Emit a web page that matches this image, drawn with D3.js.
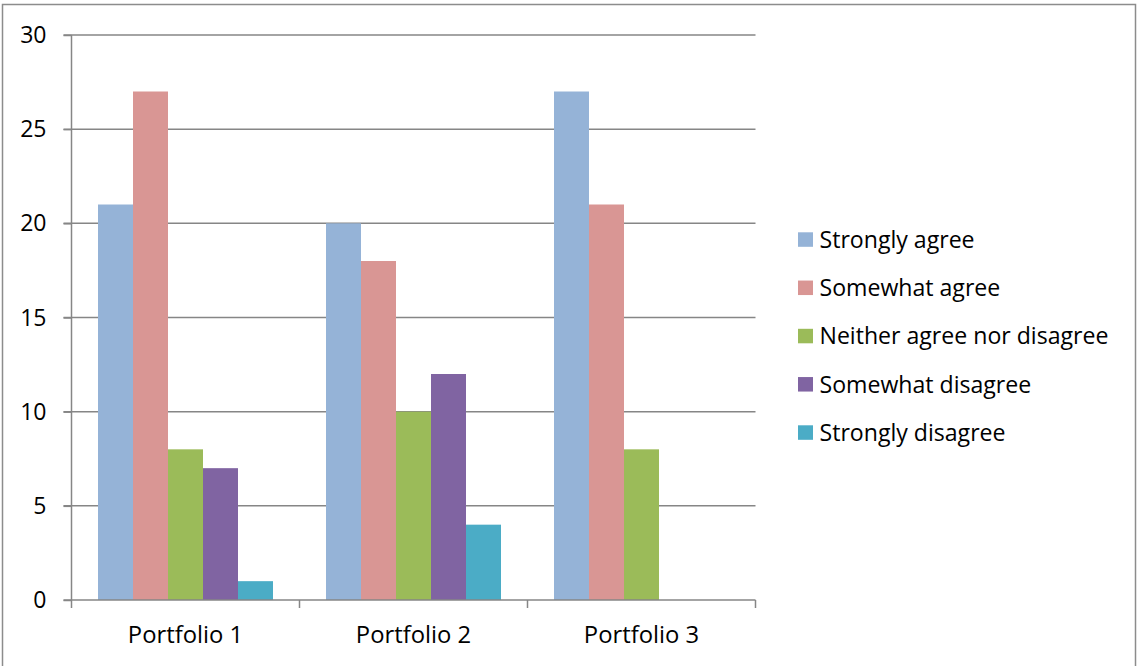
<!DOCTYPE html>
<html>
<head>
<meta charset="utf-8">
<script src="https://cdn.jsdelivr.net/npm/d3@7/dist/d3.min.js"></script>
<style>
  html, body { margin: 0; padding: 0; background: #fff; }
  svg { display: block; }
  text { font-family: "Open Sans", sans-serif; fill: #000; }
</style>
</head>
<body>
<svg id="chart" width="1138" height="666"></svg>
<script>
const categories = ["Portfolio 1", "Portfolio 2", "Portfolio 3"];
const seriesNames = ["Strongly agree", "Somewhat agree", "Neither agree nor disagree", "Somewhat disagree", "Strongly disagree"];
const stronglyAgree = [21, 20, 27];
const somewhatAgree = [27, 18, 21];
const neither = [8, 10, 8];
const somewhatDisagree = [7, 12, 0];
const stronglyDisagree = [1, 4, 0];
const yTicks = [0, 5, 10, 15, 20, 25, 30];
const colors = ["#95B3D7", "#D99694", "#9BBB59", "#8064A2", "#4BACC6"];

(function () {
const seriesValues = [stronglyAgree, somewhatAgree, neither, somewhatDisagree, stronglyDisagree];

const svg = d3.select("#chart");

// outer border
svg.append("rect")
  .attr("x", 2.5).attr("y", 4.5).attr("width", 1133).attr("height", 680)
  .attr("fill", "none").attr("stroke", "#8c8c8c").attr("stroke-width", 1.5);

const pLeft = 71.5, pRight = 755.5, pTop = 35, pBottom = 600;

const x = d3.scaleBand().domain(categories).range([pLeft, pRight]).paddingInner(0).paddingOuter(0);
const bandW = x.bandwidth();
const groupPad = 26.5 / 228;
const x1 = d3.scaleBand().domain(seriesNames)
  .range([bandW * groupPad, bandW * (1 - groupPad)]).paddingInner(0).paddingOuter(0);
const y = d3.scaleLinear().domain([0, 30]).range([pBottom, pTop]);

const gridColor = "#868686";

// gridlines
svg.append("g").selectAll("line").data(yTicks.filter(d => d !== 0)).join("line")
  .attr("x1", pLeft - 8).attr("x2", pRight)
  .attr("y1", d => y(d)).attr("y2", d => y(d))
  .attr("stroke", gridColor).attr("stroke-width", 1.5);

// bars
const groups = svg.append("g").selectAll("g").data(categories).join("g")
  .attr("transform", d => `translate(${x(d)},0)`);
groups.selectAll("rect")
  .data((c, ci) => seriesNames.map((s, si) => ({ s, si, v: seriesValues[si][ci] })).filter(d => d.v > 0))
  .join("rect")
  .attr("x", d => x1(d.s))
  .attr("width", x1.bandwidth())
  .attr("y", d => y(d.v))
  .attr("height", d => y(0) - y(d.v))
  .attr("fill", d => colors[d.si]);

// y axis
const yAxis = d3.axisLeft(y).tickValues(yTicks).tickSize(8).tickPadding(17).tickFormat(d3.format("d"));
const gy = svg.append("g").attr("transform", `translate(${pLeft},0)`).call(yAxis);
gy.select(".domain").remove();
gy.selectAll(".tick line").attr("stroke", gridColor).attr("stroke-width", 1.5);
gy.selectAll(".tick text").style("font-size", "23px").attr("dy", "0.33em").attr("fill", "#000");
svg.append("line").attr("x1", pLeft).attr("x2", pLeft).attr("y1", pTop).attr("y2", pBottom + 8)
  .attr("stroke", gridColor).attr("stroke-width", 1.5);

// x axis
svg.append("line").attr("x1", pLeft - 8).attr("x2", pRight).attr("y1", pBottom).attr("y2", pBottom)
  .attr("stroke", gridColor).attr("stroke-width", 1.5);
const boundaries = categories.map(c => x(c)).concat([x(categories[categories.length - 1]) + bandW]);
svg.append("g").selectAll("line").data(boundaries.slice(1)).join("line")
  .attr("x1", d => d).attr("x2", d => d).attr("y1", pBottom).attr("y2", pBottom + 8)
  .attr("stroke", gridColor).attr("stroke-width", 1.5);
svg.append("g").selectAll("text").data(categories).join("text")
  .attr("x", d => x(d) + bandW / 2).attr("y", 642.5)
  .attr("text-anchor", "middle").style("font-size", "23.8px").text(d => d);

// legend
const legend = svg.append("g");
const rowY = d3.scaleLinear().domain([0, 4]).range([232.3, 425.3]);
const items = legend.selectAll("g").data(seriesNames).join("g")
  .attr("transform", (d, i) => `translate(0,${rowY(i)})`);
items.append("rect").attr("x", 798).attr("y", 0).attr("width", 15).attr("height", 14.5)
  .attr("fill", (d, i) => colors[i]);
items.append("text").attr("x", 819.5).attr("y", 15.5).style("font-size", "23.1px").text(d => d);
})();
</script>
</body>
</html>
